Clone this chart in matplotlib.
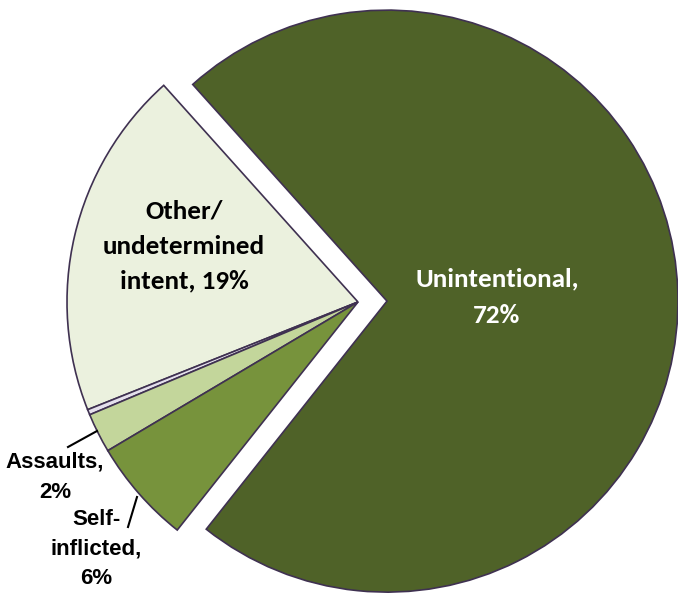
import matplotlib.pyplot as plt

# Data (share of injury deaths by intent)
labels = ['Unintentional', 'Other/undetermined intent', 'Legal intervention', 'Assaults', 'Self-inflicted']
values = [72.3, 19.4, 0.3, 2.2, 5.8]
colors = ['#4F6228', '#EBF1DE', '#E4E0EC', '#C3D69B', '#77933C']
explode_px = [29, 0, 0, 0, 0]

W, H = 678, 594
fig = plt.figure(figsize=(W / 100, H / 100), dpi=100)
ax = fig.add_axes([0, 0, 1, 1])

cx, cy, r = 358, H - 302, 291
ax.pie(values, colors=colors, explode=explode_px, startangle=231.6,
       center=(cx, cy), radius=r, frame=True,
       wedgeprops=dict(edgecolor='#3F3151', linewidth=1.2))
ax.set_xlim(0, W)
ax.set_ylim(0, H)
ax.set_aspect('equal')
ax.axis('off')

big = 'Carlito'
small = 'Liberation Sans'
ax.text(497, H - 297, 'Unintentional,\n72%', color='white', fontsize=19.5,
        fontweight='bold', family=big, ha='center', va='center', linespacing=1.7)
ax.text(184, H - 246, 'Other/\nundetermined\nintent, 19%', color='black', fontsize=19.5,
        fontweight='bold', family=big, ha='center', va='center', linespacing=1.65)
ax.text(55, H - 477, 'Assaults,\n2%', color='black', fontsize=16,
        fontweight='bold', family=small, ha='center', va='center', linespacing=1.6)
ax.text(96, H - 549, 'Self-\ninflicted,\n6%', color='black', fontsize=16,
        fontweight='bold', family=small, ha='center', va='center', linespacing=1.55)

# leader lines for the small slices
ax.plot([97, 68], [H - 431, H - 447], color='black', lw=1.5)
ax.plot([137, 128], [H - 497, H - 527], color='black', lw=1.5)

fig.savefig('out.png', dpi=100)
